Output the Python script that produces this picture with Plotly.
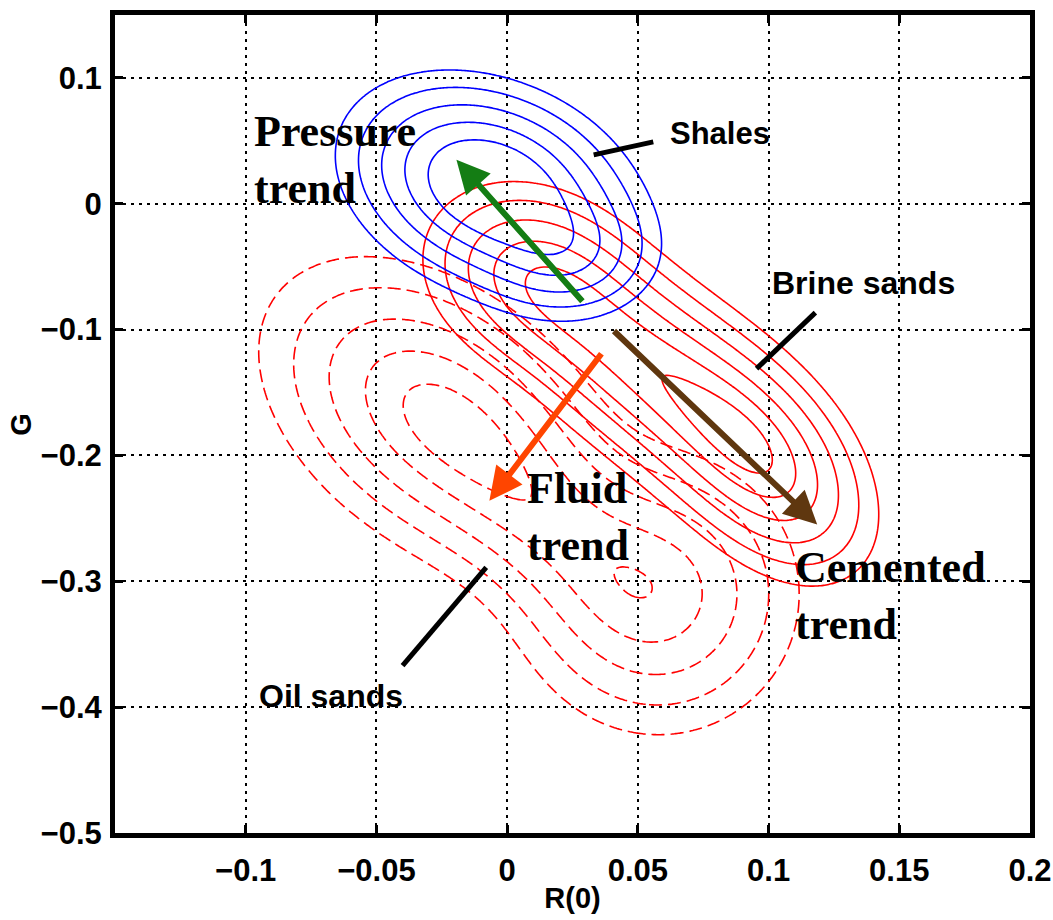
import numpy as np
import plotly.graph_objects as go

# ---- AVO crossplot: intercept R(0) versus gradient G ----
# Each facies density is a sum of elliptical Gaussian kernels:
# centre (r0, g), spread (sr, sg), correlation rho, weight w.
shale_r0 = [-0.0060, 0.0240]
shale_g = [0.0130, -0.0420]
shale_sr = [0.0272, 0.0175]
shale_sg = [0.0425, 0.0270]
shale_rho = [-0.27, 0.0]
shale_w = [1.0, 0.30]

brine_r0 = [0.0085, 0.0370, 0.0700, 0.0990]
brine_g = [-0.0590, -0.1030, -0.1550, -0.2070]
brine_sr = [0.0210, 0.0220, 0.0220, 0.0205]
brine_sg = [0.0380, 0.0460, 0.0460, 0.0460]
brine_rho = [-0.20, -0.42, -0.42, -0.42]
brine_w = [0.70, 0.75, 0.80, 1.0]

oil_r0 = [-0.0268, 0.0150, 0.0580]
oil_g = [-0.1680, -0.2500, -0.3100]
oil_sr = [0.0325, 0.0250, 0.0268]
oil_sg = [0.0600, 0.0520, 0.0556]
oil_rho = [-0.40, -0.50, 0.0]
oil_w = [1.0, 0.50, 0.82]

# contour positions in Mahalanobis-style distance units (inner, outer, step)
shale_levels = (0.90, 2.20, 0.325)
brine_levels = (0.50, 2.25, 0.35)
oil_levels = (0.55, 2.15, 0.40)

# trend arrows: (name, tail R0, tail G, head R0, head G, colour)
trend_arrows = [
    ("pressure", 0.0293, -0.0786, -0.0194, 0.0349, "rgb(20,125,20)"),
    ("fluid", 0.0365, -0.1180, -0.0068, -0.2360, "rgb(255,69,0)"),
    ("cemented", 0.0403, -0.1000, 0.1186, -0.2548, "rgb(95,55,15)"),
]

# label leader lines: (R0 start, G start, R0 end, G end)
leaders = [
    (0.0331, 0.0389, 0.0559, 0.0492),     # Shales
    (0.0954, -0.1310, 0.1179, -0.0865),   # Brine sands
    (-0.0400, -0.3670, -0.0080, -0.2890), # Oil sands
]

x_ticks = [-0.1, -0.05, 0, 0.05, 0.1, 0.15, 0.2]
y_ticks = [0.1, 0, -0.1, -0.2, -0.3, -0.4, -0.5]

# evaluation grid
gx = np.linspace(-0.15, 0.2, 351)
gy = np.linspace(-0.5, 0.15, 326)
X, Y = np.meshgrid(gx, gy)


def distance_field(r0, g, sr, sg, rho, w):
    """Kernel-sum density expressed as an equivalent Gaussian radius."""
    z = np.zeros_like(X)
    for mx, my, sx, sy, p, wt in zip(r0, g, sr, sg, rho, w):
        u = (X - mx) / sx
        v = (Y - my) / sy
        q = (u * u - 2 * p * u * v + v * v) / (1 - p * p)
        z += wt * np.exp(-0.5 * q)
    z = np.clip(z / z.max(), 1e-12, 1.0)
    return np.sqrt(-2.0 * np.log(z))


def contour_trace(t, levels, color, dash):
    start, end, size = levels
    return go.Contour(
        x=gx, y=gy, z=t,
        contours=dict(coloring="lines", start=start, end=end + 1e-9, size=size),
        colorscale=[[0, color], [1, color]],
        showscale=False,
        line=dict(width=1.6, dash=dash, smoothing=0.6),
        hoverinfo="skip",
    )


fig = go.Figure()
fig.add_trace(contour_trace(
    distance_field(oil_r0, oil_g, oil_sr, oil_sg, oil_rho, oil_w),
    oil_levels, "rgb(255,0,0)", "13px,6px"))
fig.add_trace(contour_trace(
    distance_field(brine_r0, brine_g, brine_sr, brine_sg, brine_rho, brine_w),
    brine_levels, "rgb(255,0,0)", "solid"))
fig.add_trace(contour_trace(
    distance_field(shale_r0, shale_g, shale_sr, shale_sg, shale_rho, shale_w),
    shale_levels, "rgb(0,0,255)", "solid"))

annotations = []
for name, x0, y0, x1, y1, col in trend_arrows:
    annotations.append(dict(
        x=x1, y=y1, ax=x0, ay=y0, xref="x", yref="y", axref="x", ayref="y",
        text="", showarrow=True, arrowhead=2, arrowsize=1.1, arrowwidth=6,
        arrowcolor=col,
    ))

serif = dict(family="Liberation Serif", size=44, color="black", weight="bold")
sans = dict(family="Liberation Sans", size=31, color="black", weight="bold")
sans_big = dict(family="Liberation Sans", size=32, color="black", weight="bold")
annotations += [
    dict(x=-0.0975, y=0.035, text="Pressure<br>trend", xanchor="left",
         yanchor="middle", align="left", font=serif),
    dict(x=0.0068, y=-0.249, text="Fluid<br>trend", xanchor="left",
         yanchor="middle", align="left", font=serif),
    dict(x=0.1095, y=-0.312, text="Cemented<br>trend", xanchor="left",
         yanchor="middle", align="left", font=serif),
    dict(x=0.0815, y=0.056, text="Shales", xanchor="center",
         yanchor="middle", font=sans),
    dict(x=0.1365, y=-0.063, text="Brine sands", xanchor="center",
         yanchor="middle", font=sans_big),
    dict(x=-0.0673, y=-0.391, text="Oil sands", xanchor="center",
         yanchor="middle", font=sans_big),
    # vertical axis title
    dict(x=-0.103, y=0.5, xref="paper", yref="paper", text="G",
         textangle=-90, xanchor="center", yanchor="middle",
         font=dict(family="Liberation Sans", size=29, color="black", weight="bold")),
]
for a in annotations:
    a.setdefault("showarrow", False)
    a.setdefault("xref", "x")
    a.setdefault("yref", "y")

shapes = [
    dict(type="line", xref="x", yref="y", x0=a, y0=b, x1=c, y1=d,
         line=dict(color="black", width=5))
    for a, b, c, d in leaders
]

axis_common = dict(
    showline=True, linecolor="black", linewidth=5, mirror="allticks",
    ticks="inside", ticklen=8, tickwidth=3, tickcolor="black",
    showgrid=True, gridcolor="black", gridwidth=1.5, griddash="3px,5px",
    zeroline=False, automargin=False,
    tickfont=dict(family="Liberation Sans", size=31, color="black", weight="bold"),
    title_font=dict(family="Liberation Sans", size=29, color="black", weight="bold"),
)

fig.update_layout(
    width=1053, height=920,
    margin=dict(l=115, r=23, t=15, b=87),
    paper_bgcolor="white", plot_bgcolor="white",
    showlegend=False,
    annotations=annotations,
    shapes=shapes,
    xaxis=dict(range=[-0.15, 0.2], tickvals=x_ticks,
               ticktext=[f"{v:g}".replace("-", "\u2212") for v in x_ticks],
               title=dict(text="R(0)", standoff=2), ticklabelstandoff=6,
               **axis_common),
    yaxis=dict(range=[-0.5, 0.15], tickvals=y_ticks,
               ticktext=[f"{v:g}".replace("-", "\u2212") for v in y_ticks],
               ticklabelstandoff=2,
               **axis_common),
)

fig.write_html("out.html")
